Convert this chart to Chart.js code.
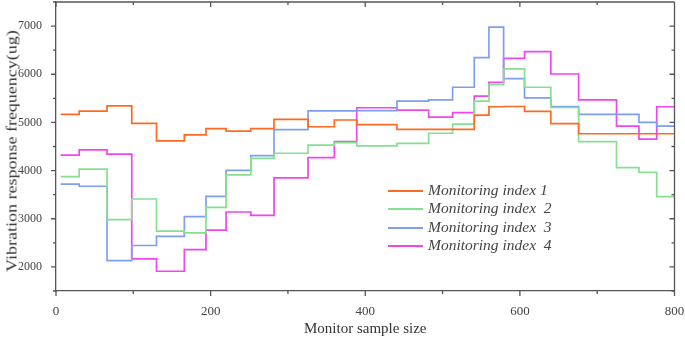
<!DOCTYPE html>
<html>
<head>
<meta charset="utf-8">
<script src="https://cdn.jsdelivr.net/npm/chart.js@4.4.1/dist/chart.umd.min.js"></script>
<style>
  html, body { margin: 0; padding: 0; background: #fff; }
  #wrap { position: relative; width: 685px; height: 339px; }
  #legend { position: absolute; left: 388px; top: 181px; font-family: "Liberation Serif", "Times New Roman", serif; font-style: italic; font-size: 15.5px; color: #444; }
  .row { position: relative; height: 18.3px; line-height: 18px; white-space: pre; }
  .sw { position: absolute; left: 0; top: 9px; width: 35px; height: 2px; }
  .lbl { position: absolute; left: 40px; top: 0; }
  #ytitle { position: absolute; left: 12px; top: 151px; white-space: nowrap; font-family: "Liberation Serif", "Times New Roman", serif; font-size: 15px; color: #333; transform: translate(-50%, -50%) rotate(-90deg) scaleX(1.2); }
</style>
</head>
<body>
<div id="wrap">
  <canvas id="c" width="685" height="339"></canvas>
  <div id="legend"></div>
  <div id="ytitle"></div>
</div>
<script>
// Step breakpoints along x (monitor sample size); each value holds until the next breakpoint
const breakpoints = [6, 30, 66, 98, 130, 166, 194, 220, 252, 282, 326, 360, 389, 441, 482, 513, 541, 560, 579, 606, 640, 676, 725, 754, 777, 800];

const seriesNames = ["Monitoring index 1", "Monitoring index  2", "Monitoring index  3", "Monitoring index  4"];
const xTitle = "Monitor sample size";
const yTitle = "Vibration response frequency(ug)";

const index1 = [5165, 5235, 5345, 4980, 4615, 4740, 4870, 4820, 4870, 5065, 4910, 5050, 4955, 4855, 4855, 4855, 5150, 5325, 5330, 5230, 4975, 4765, 4765, 4765, 4765];
const index2 = [3875, 4030, 2980, 3410, 2745, 2705, 3235, 3910, 4255, 4360, 4530, 4580, 4515, 4565, 4775, 4965, 5440, 5785, 6110, 5730, 5310, 4600, 4060, 3965, 3460];
const index3 = [3720, 3675, 2130, 2445, 2635, 3045, 3465, 4005, 4310, 4850, 5240, 5240, 5245, 5440, 5470, 5730, 6345, 6980, 5910, 5510, 5330, 5165, 5165, 5000, 4925];
const index4 = [4320, 4430, 4340, 2165, 1910, 2360, 2765, 3140, 3070, 3850, 4270, 4600, 5305, 5255, 5110, 5205, 5545, 5830, 6330, 6470, 6005, 5470, 4925, 4655, 5325];

const xTickLabels = [0, 200, 400, 600, 800];
const yTickLabels = [2000, 3000, 4000, 5000, 6000, 7000];

const colors = ["#ff6a22", "#86e08f", "#7e9ff0", "#f046f0"];
const allSeries = [index1, index2, index3, index4];

function toPoints(vals) {
  const pts = vals.map((v, i) => ({ x: breakpoints[i], y: v }));
  pts.push({ x: breakpoints[breakpoints.length - 1], y: vals[vals.length - 1] });
  return pts;
}

const serif = "'Liberation Serif', 'Times New Roman', serif";
const axisColor = "#555";

document.getElementById("ytitle").textContent = yTitle;

// legend (HTML)
const legend = document.getElementById("legend");
seriesNames.forEach((n, i) => {
  const r = document.createElement("div");
  r.className = "row";
  r.innerHTML = '<span class="sw" style="background:' + colors[i] + '"></span><span class="lbl"></span>';
  r.querySelector(".lbl").textContent = n;
  legend.appendChild(r);
});

const frameTicks = {
  id: "frameTicks",
  afterDraw(chart) {
    const ctx = chart.ctx, a = chart.chartArea;
    const xs = chart.scales.x, ys = chart.scales.y;
    ctx.save();
    ctx.strokeStyle = axisColor;
    ctx.lineWidth = 1.3;
    ctx.beginPath();
    ctx.moveTo(a.left, a.top); ctx.lineTo(a.right, a.top);
    ctx.moveTo(a.right, a.top); ctx.lineTo(a.right, a.bottom);
    for (let v = 0; v <= 800; v += 100) {
      const p = xs.getPixelForValue(v);
      const L = v % 200 === 0 ? 5 : 3;
      ctx.moveTo(p, a.bottom); ctx.lineTo(p, a.bottom + L);
      ctx.moveTo(p, a.top); ctx.lineTo(p, a.top + L);
    }
    for (let v = 1500; v <= 7500; v += 500) {
      const p = ys.getPixelForValue(v);
      const L = v % 1000 === 0 ? 5 : 3;
      ctx.moveTo(a.left, p); ctx.lineTo(a.left - L, p);
      ctx.moveTo(a.right, p); ctx.lineTo(a.right - L, p);
    }
    ctx.stroke();
    ctx.restore();
  }
};

new Chart(document.getElementById("c"), {
  type: "line",
  data: {
    datasets: allSeries.map((s, i) => ({
      label: seriesNames[i],
      data: toPoints(s),
      borderColor: colors[i],
      backgroundColor: colors[i],
      borderWidth: 1.7,
      pointRadius: 0,
      stepped: "before",
      fill: false
    }))
  },
  options: {
    responsive: false,
    animation: false,
    devicePixelRatio: 1,
    layout: { padding: { top: 2, right: 10.5, left: 0, bottom: 0 } },
    plugins: { legend: { display: false }, tooltip: { enabled: false } },
    scales: {
      x: {
        type: "linear", min: 0, max: 800,
        afterBuildTicks: s => { s.ticks = xTickLabels.map(v => ({ value: v })); },
        ticks: { font: { family: serif, size: 13 }, color: "#444", padding: 5, maxRotation: 0, callback: v => String(v) },
        grid: { display: false },
        border: { display: true, color: axisColor, width: 1.3 },
        title: { display: true, text: xTitle, font: { family: serif, size: 15 }, color: "#333", padding: { top: 0, bottom: 1 } },
        afterFit: s => { s.height = 48; s.paddingLeft = 0; s.paddingRight = 0; }
      },
      y: {
        type: "linear", min: 1500, max: 7500,
        afterBuildTicks: s => { s.ticks = yTickLabels.map(v => ({ value: v })); },
        ticks: { font: { family: serif, size: 12 }, color: "#444", padding: 6, callback: v => String(v) },
        grid: { display: false },
        border: { display: true, color: axisColor, width: 1.3 },
        title: { display: false },
        afterFit: s => { s.width = 56; s.paddingTop = 0; s.paddingBottom = 0; }
      }
    }
  },
  plugins: [frameTicks]
});
</script>
</body>
</html>
